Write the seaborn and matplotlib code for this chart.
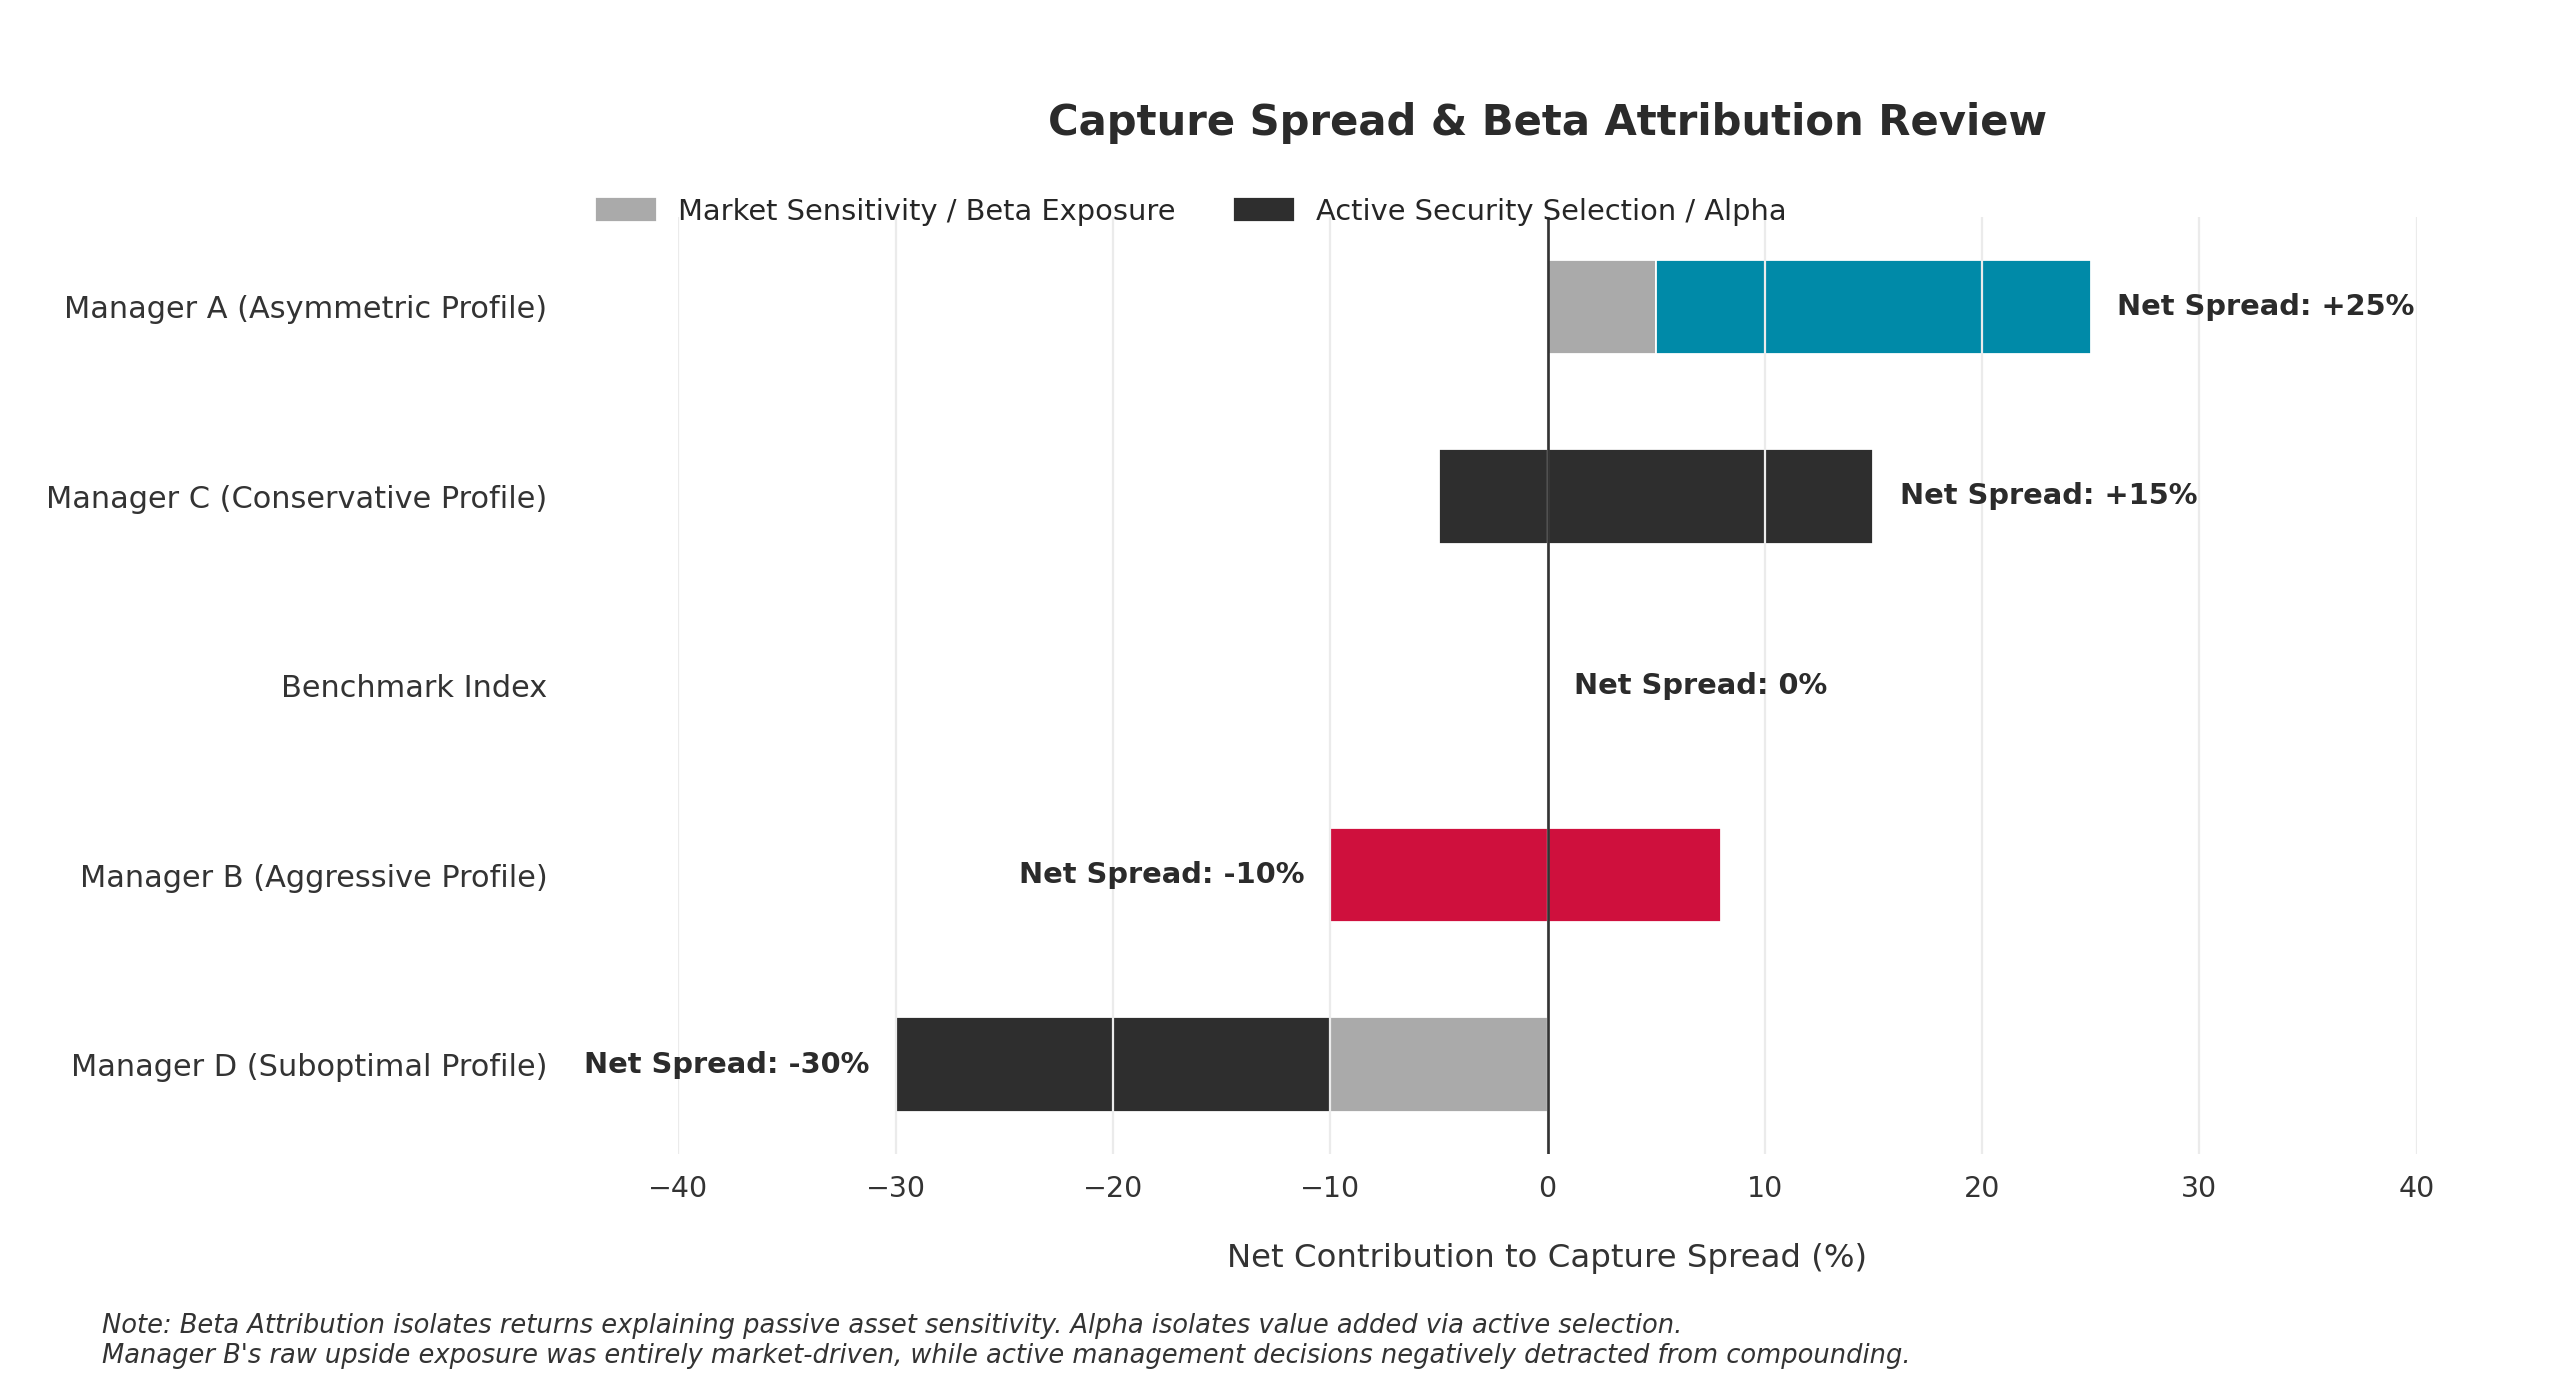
import numpy as np
import matplotlib
matplotlib.use("Agg")
import matplotlib.pyplot as plt
import matplotlib.patches as mpatches
import seaborn as sns

# Data (top to bottom)
managers = [
    "Manager A (Asymmetric Profile)",
    "Manager C (Conservative Profile)",
    "Benchmark Index",
    "Manager B (Aggressive Profile)",
    "Manager D (Suboptimal Profile)",
]
beta = [5, -5, 0, 8, -10]
alpha = [20, 20, 0, -18, -20]
net_spread = [25, 15, 0, -10, -30]

GRAY = "#AAAAAA"
DARK = "#2E2E2E"
TEAL = "#008AA8"
RED = "#CF103D"
beta_colors = [GRAY, DARK, GRAY, RED, GRAY]
alpha_colors = [TEAL, DARK, DARK, RED, DARK]

sns.set_theme(style="whitegrid")
plt.rcParams["font.family"] = ["DejaVu Sans"]

fig = plt.figure(figsize=(16, 8.725), dpi=160)
ax = fig.add_axes([0.265, 0.173, 0.679, 0.6716])

y = np.arange(len(managers))
ax.barh(y, beta, height=0.5, color=beta_colors, edgecolor="white", linewidth=0.8, zorder=1)
ax.barh(y, alpha, left=beta, height=0.5, color=alpha_colors, edgecolor="white", linewidth=0.8, zorder=1)

ax.axvline(0, color="#333333", linewidth=1.2, zorder=3)

# net spread labels
for i, net in enumerate(net_spread):
    lo = min(0, beta[i], beta[i] + alpha[i])
    hi = max(0, beta[i], beta[i] + alpha[i])
    if net >= 0:
        ax.text(hi + 1.2, i, f"Net Spread: {'+' if net > 0 else ''}{net}%", ha="left", va="center",
                fontsize=13, fontweight="bold", color="#2b2b2b")
    else:
        ax.text(lo - 1.2, i, f"Net Spread: {net}%", ha="right", va="center",
                fontsize=13, fontweight="bold", color="#2b2b2b")

ax.set_yticks(y)
ax.set_yticklabels(managers)
ax.set_ylim(len(managers) - 0.525, -0.475)
ax.set_xlim(-40, 40)
ax.set_xticks(range(-40, 41, 10))
ax.tick_params(axis="y", labelsize=13.7, colors="#333333", pad=53)
ax.tick_params(axis="x", labelsize=12.8, colors="#333333", pad=3.4)

ax.grid(axis="x", color="#EBEBEB", linewidth=1)
ax.grid(axis="y", visible=False)
ax.set_axisbelow(False)
sns.despine(ax=ax, left=True, bottom=True)

ax.set_xlabel("Net Contribution to Capture Spread (%)", fontsize=14.6, color="#333333", labelpad=18)
ax.set_title("Capture Spread & Beta Attribution Review", fontsize=18.8, fontweight="bold",
             color="#2b2b2b", pad=37)

handles = [
    mpatches.Patch(color=GRAY, label="Market Sensitivity / Beta Exposure"),
    mpatches.Patch(color=DARK, label="Active Security Selection / Alpha"),
]
ax.legend(handles=handles, loc="lower left", bbox_to_anchor=(-0.0616, 0.963), ncol=2,
          frameon=False, fontsize=13, handlelength=2.0, columnspacing=2.06)

fig.text(0.04, 0.0196,
         "Note: Beta Attribution isolates returns explaining passive asset sensitivity. Alpha isolates value added via active selection.\n"
         "Manager B's raw upside exposure was entirely market-driven, while active management decisions negatively detracted from compounding.",
         fontsize=11.6, style="italic", color="#333333", va="bottom", linespacing=1.2)

fig.savefig("out.png", dpi=160)
